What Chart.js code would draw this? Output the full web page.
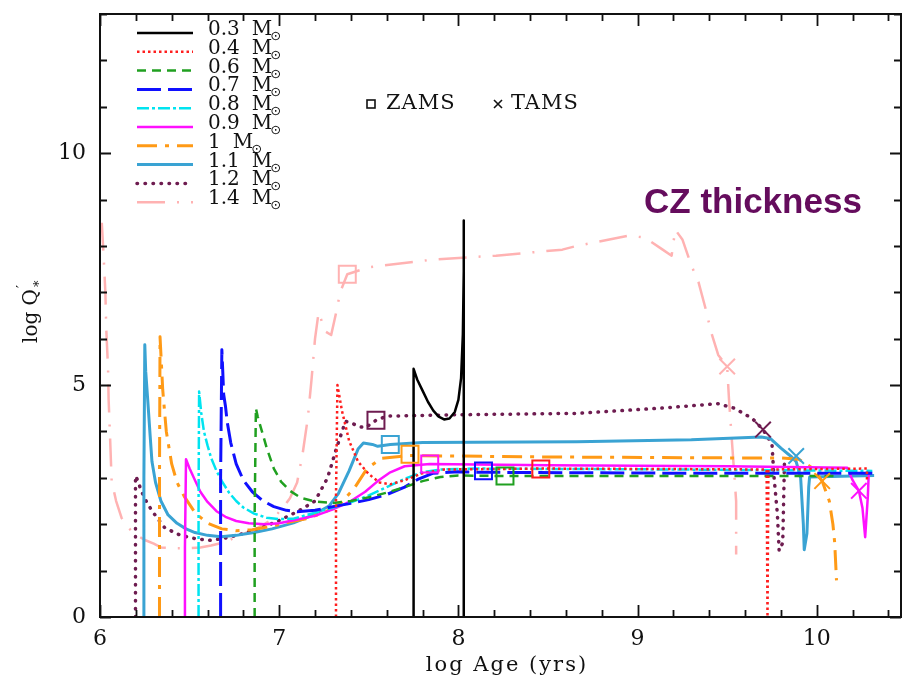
<!DOCTYPE html>
<html>
<head>
<meta charset="utf-8">
<title>CZ thickness</title>
<script src="https://cdn.jsdelivr.net/npm/chart.js@4.4.0/dist/chart.umd.min.js"></script>
<style>
html,body{margin:0;padding:0;background:#fff;overflow:hidden;}
#wrap{position:relative;width:903px;height:683px;overflow:hidden;}
canvas{display:block;}
</style>
</head>
<body>
<div id="wrap"><canvas id="cz" width="915" height="683"></canvas></div>
<script>
// log Q'* against log age, one track per stellar mass: [log age, log Q]
const masses = ['0.3', '0.4', '0.6', '0.7', '0.8', '0.9', '1', '1.1', '1.2', '1.4'];

const track03 = [[7.75,0],[7.75,5.35],[7.77,5.12],[7.80,4.88],[7.83,4.64],[7.86,4.45],[7.89,4.32],[7.92,4.26],[7.95,4.28],[7.98,4.42],[8.0,4.68],[8.015,5.15],[8.025,6.1],[8.03,7.45],[8.03,8.55],[8.03,0]];
const track04 = [[7.317,0],[7.317,2.6],[7.325,5.0],[7.35,4.45],[7.39,3.8],[7.44,3.35],[7.5,3.08],[7.56,2.9],[7.62,2.86],[7.7,2.95],[7.8,3.1],[7.92,3.18],[8.46,3.2],[9.2,3.19],[9.72,3.18],[9.725,0],[9.73,3.18],[10.28,3.2],[10.28,2.95]];
const track06 = [[6.863,0],[6.863,2.2],[6.87,4.5],[6.88,4.32],[6.9,4.05],[6.93,3.65],[6.97,3.2],[7.01,2.92],[7.06,2.72],[7.12,2.57],[7.2,2.49],[7.3,2.46],[7.4,2.5],[7.5,2.58],[7.6,2.68],[7.7,2.8],[7.8,2.93],[7.9,3.02],[8.0,3.05],[8.26,3.04],[9.2,3.04],[10.1,3.04]];
const track07 = [[6.673,0],[6.673,3.0],[6.68,5.76],[6.685,5.3],[6.69,4.8],[6.70,4.55],[6.71,4.2],[6.73,3.75],[6.76,3.3],[6.8,2.95],[6.85,2.7],[6.91,2.5],[6.97,2.38],[7.04,2.3],[7.1,2.27],[7.2,2.3],[7.3,2.38],[7.4,2.45],[7.5,2.53],[7.6,2.64],[7.7,2.8],[7.78,2.98],[7.86,3.1],[8.0,3.13],[8.14,3.12],[9.2,3.1],[10.32,3.1]];
const track08 = [[6.55,0],[6.55,2.5],[6.553,4.86],[6.565,4.4],[6.58,4.0],[6.6,3.7],[6.62,3.43],[6.65,3.15],[6.68,2.93],[6.72,2.68],[6.76,2.5],[6.8,2.36],[6.86,2.23],[6.93,2.14],[7.0,2.11],[7.08,2.12],[7.2,2.25],[7.3,2.36],[7.4,2.47],[7.5,2.62],[7.6,2.8],[7.7,2.98],[7.8,3.12],[7.9,3.18],[8.1,3.2],[9.2,3.18],[10.31,3.15]];
const track09 = [[6.474,0],[6.474,1.5],[6.48,3.4],[6.5,3.2],[6.53,2.95],[6.56,2.7],[6.6,2.48],[6.65,2.28],[6.7,2.16],[6.76,2.07],[6.83,2.02],[6.92,2.0],[7.0,2.02],[7.1,2.1],[7.2,2.18],[7.3,2.32],[7.4,2.5],[7.48,2.7],[7.55,2.93],[7.62,3.12],[7.7,3.25],[7.84,3.3],[8.5,3.27],[9.5,3.25],[10.17,3.22],[10.2,2.95],[10.235,2.72],[10.255,2.35],[10.27,1.72],[10.285,2.6],[10.29,3.1]];
const track10 = [[6.332,0],[6.332,3.0],[6.335,6.04],[6.35,4.9],[6.37,4.0],[6.4,3.3],[6.43,2.9],[6.47,2.6],[6.53,2.25],[6.6,2.02],[6.68,1.9],[6.76,1.86],[6.85,1.88],[6.95,1.95],[7.05,2.04],[7.15,2.12],[7.25,2.25],[7.34,2.44],[7.42,2.78],[7.49,3.2],[7.57,3.42],[7.73,3.48],[8.5,3.45],[9.5,3.43],[9.8,3.43],[9.9,3.4],[9.98,3.2],[10.03,2.93],[10.07,2.5],[10.09,2.0],[10.1,1.6],[10.11,0.79]];
const track11 = [[6.245,0],[6.245,3.0],[6.25,5.87],[6.255,5.3],[6.266,4.7],[6.28,3.9],[6.29,3.35],[6.31,2.9],[6.34,2.5],[6.38,2.2],[6.43,2.02],[6.48,1.9],[6.53,1.82],[6.6,1.76],[6.675,1.73],[6.76,1.76],[6.86,1.82],[6.96,1.9],[7.08,2.03],[7.2,2.22],[7.28,2.4],[7.33,2.66],[7.39,3.15],[7.44,3.62],[7.47,3.75],[7.52,3.72],[7.55,3.68],[7.62,3.72],[7.8,3.76],[8.66,3.78],[9.3,3.82],[9.69,3.88],[9.74,3.85],[9.8,3.64],[9.86,3.45],[9.885,3.35],[9.91,3.0],[9.925,2.0],[9.93,1.45],[9.945,1.8],[9.955,2.8],[9.96,3.02],[10.32,3.05]];
const track12 = [[6.198,0],[6.198,3.04],[6.21,2.95],[6.23,2.72],[6.26,2.48],[6.29,2.29],[6.33,2.08],[6.36,1.93],[6.41,1.83],[6.45,1.76],[6.53,1.69],[6.62,1.65],[6.71,1.71],[6.8,1.8],[6.9,1.92],[7.0,2.08],[7.11,2.29],[7.2,2.5],[7.27,3.0],[7.32,3.64],[7.37,4.22],[7.41,4.17],[7.44,4.11],[7.48,4.08],[7.54,4.24],[7.6,4.33],[8.0,4.36],[8.66,4.39],[9.12,4.5],[9.45,4.6],[9.54,4.5],[9.64,4.28],[9.7,4.04],[9.75,3.73],[9.76,3.08],[9.78,2.23],[9.79,1.43],[9.81,1.6],[9.82,3.4]];
const track14 = [[6.01,8.5],[6.02,7.8],[6.03,7.0],[6.035,6.2],[6.045,5.35],[6.048,4.7],[6.055,4.0],[6.065,2.93],[6.09,2.5],[6.12,2.14],[6.16,1.92],[6.19,1.8],[6.25,1.66],[6.3,1.58],[6.34,1.5],[6.42,1.48],[6.49,1.48],[6.56,1.5],[6.62,1.54],[6.7,1.62],[6.78,1.76],[6.88,1.92],[6.96,2.1],[7.02,2.35],[7.06,2.56],[7.1,2.9],[7.13,3.5],[7.16,4.3],[7.18,5.1],[7.2,6.0],[7.22,6.57],[7.24,6.35],[7.26,6.15],[7.29,6.08],[7.32,6.6],[7.34,7.0],[7.38,7.39],[7.5,7.54],[7.87,7.71],[8.21,7.79],[8.58,7.92],[8.66,8.0],[8.95,8.22],[9.04,8.18],[9.14,7.92],[9.19,7.79],[9.21,8.35],[9.25,8.14],[9.3,7.58],[9.34,7.22],[9.38,6.64],[9.41,6.15],[9.45,5.65],[9.5,5.4],[9.51,4.7],[9.53,3.6],[9.55,2.5],[9.55,1.35]];

const tracks = [track03, track04, track06, track07, track08, track09, track10, track11, track12, track14];

// zero-age and terminal-age main sequence points
const zamsMass = ['1.4', '1.2', '1.1', '1', '0.9', '0.7', '0.6', '0.4'];
const zamsAge  = [7.38, 7.54, 7.62, 7.73, 7.84, 8.14, 8.26, 8.46];
const zamsQ    = [7.39, 4.24, 3.72, 3.51, 3.30, 3.15, 3.04, 3.19];
const tamsMass = ['1.4', '1.2', '1.1', '1', '0.9'];
const tamsAge  = [9.50, 9.70, 9.885, 10.03, 10.235];
const tamsQ    = [5.40, 4.04, 3.47, 2.93, 2.72];

const xTickLabels = [6, 7, 8, 9, 10];
const yTickLabels = [0, 5, 10];

const styles = {
  '0.3': {color: '#000000', width: 2.5, dash: []},
  '0.4': {color: '#ff1e1e', width: 2.5, dash: [2.5, 3]},
  '0.6': {color: '#20a020', width: 2.5, dash: [9, 6]},
  '0.7': {color: '#1010ff', width: 3, dash: [24, 7]},
  '0.8': {color: '#00e4f0', width: 2.5, dash: [12, 3, 3, 3]},
  '0.9': {color: '#ff10ff', width: 2.5, dash: []},
  '1':   {color: '#ff9a16', width: 3, dash: [20, 8, 4, 8]},
  '1.1': {color: '#3aa3d3', width: 3, dash: []},
  '1.2': {color: '#6e1c50', width: 3.5, dash: [0.5, 7.5], cap: 'round'},
  '1.4': {color: '#ffb2b2', width: 2.5, dash: [28, 12, 2, 12]}
};

const serif = '"DejaVu Serif", "Liberation Serif", serif';
const xy = p => ({x: p[0], y: p[1]});

const datasets = masses.map((m, i) => ({
  label: m + ' M\u2299',
  data: tracks[i].map(xy),
  borderColor: styles[m].color,
  borderWidth: styles[m].width,
  borderDash: styles[m].dash,
  borderCapStyle: styles[m].cap || 'butt',
  borderJoinStyle: 'round',
  pointRadius: 0,
  tension: 0,
  fill: false
}));

datasets.unshift({
  type: 'scatter', label: 'ZAMS',
  data: zamsAge.map((a, i) => ({x: a, y: zamsQ[i]})),
  pointStyle: 'rect', pointRadius: 12, pointBorderWidth: 2,
  pointBackgroundColor: 'rgba(0,0,0,0)',
  pointBorderColor: zamsMass.map(m => styles[m].color),
  showLine: false
}, {
  type: 'scatter', label: 'TAMS',
  data: tamsAge.map((a, i) => ({x: a, y: tamsQ[i]})),
  pointStyle: 'crossRot', pointRadius: 11, pointBorderWidth: 2,
  pointBorderColor: tamsMass.map(m => styles[m].color),
  showLine: false
});

// frame, inward ticks, legend and annotations
const decor = {
  id: 'decor',
  afterDraw(chart) {
    const {ctx, chartArea: a, scales: {x, y}} = chart;
    ctx.save();
    ctx.strokeStyle = '#111';
    ctx.lineWidth = 2;
    ctx.setLineDash([]);
    ctx.strokeRect(a.left, a.top, a.right - a.left, a.bottom - a.top);

    ctx.lineWidth = 1.8;
    ctx.beginPath();
    for (let v = 6; v <= x.max + 1e-6; v += 0.2) {
      const px = Math.round(x.getPixelForValue(v)) + 0.5;
      const len = Math.abs(v - Math.round(v)) < 1e-6 ? 12 : 7;
      ctx.moveTo(px, a.bottom); ctx.lineTo(px, a.bottom - len);
      ctx.moveTo(px, a.top); ctx.lineTo(px, a.top + len);
    }
    for (let v = 0; v <= y.max; v += 1) {
      const py = Math.round(y.getPixelForValue(v)) + 0.5;
      const len = v % 5 === 0 ? 11 : 7;
      ctx.moveTo(a.left, py); ctx.lineTo(a.left + len, py);
      ctx.moveTo(a.right, py); ctx.lineTo(a.right - len, py);
    }
    ctx.stroke();

    // legend block
    const rowH = 18.8;
    masses.forEach((m, i) => {
      const ly = 33 + i * rowH;
      const s = styles[m];
      ctx.strokeStyle = s.color;
      ctx.lineWidth = s.width;
      ctx.lineCap = s.cap || 'butt';
      ctx.setLineDash(s.dash);
      ctx.beginPath();
      ctx.moveTo(137, ly); ctx.lineTo(193, ly);
      ctx.stroke();
      ctx.setLineDash([]);
      ctx.fillStyle = '#111';
      ctx.font = '20px ' + serif;
      ctx.textBaseline = 'alphabetic';
      ctx.textAlign = 'left';
      ctx.fillText(m, 208, ly + 2);
      const mx = 208 + ctx.measureText(m).width + 12;
      ctx.fillText('M', mx, ly + 2);
      const sx = mx + ctx.measureText('M').width;
      ctx.font = '13px "DejaVu Sans", sans-serif';
      ctx.fillText('\u2299', sx - 2, ly + 7);
    });

    // ZAMS / TAMS key
    ctx.strokeStyle = '#111';
    ctx.lineWidth = 1.6;
    ctx.lineCap = 'butt';
    ctx.strokeRect(367, 100, 8, 8);
    ctx.beginPath();
    ctx.moveTo(494, 100); ctx.lineTo(502, 108);
    ctx.moveTo(502, 100); ctx.lineTo(494, 108);
    ctx.stroke();
    ctx.fillStyle = '#111';
    ctx.font = '21px ' + serif;
    ctx.letterSpacing = '1px';
    ctx.fillText('ZAMS', 386, 109);
    ctx.fillText('TAMS', 511, 109);

    // axis titles
    ctx.letterSpacing = '2px';
    ctx.textAlign = 'center';
    ctx.fillText('log Age (yrs)', 507, 671);
    ctx.letterSpacing = '0px';

    ctx.save();
    ctx.translate(37, 312);
    ctx.rotate(-Math.PI / 2);
    ctx.font = '20px ' + serif;
    ctx.textAlign = 'left';
    const t = 'log Q';
    const tw = ctx.measureText(t).width;
    ctx.fillText(t, -tw / 2 - 4, 0);
    ctx.font = '13px ' + serif;
    ctx.fillText('\u2032', tw / 2 - 3, -11);
    ctx.fillText('*', tw / 2 - 2, 6);
    ctx.restore();

    ctx.fillStyle = '#650c5d';
    ctx.font = 'bold 35px "Liberation Sans", Arial, sans-serif';
    ctx.textAlign = 'left';
    ctx.fillText('CZ thickness', 644, 213);
    ctx.restore();
  }
};

new Chart(document.getElementById('cz'), {
  type: 'line',
  data: {datasets},
  options: {
    responsive: false,
    animation: false,
    devicePixelRatio: 1,
    layout: {padding: {top: 10, right: 7, left: 0, bottom: 0}},
    plugins: {legend: {display: false}, tooltip: {enabled: false}},
    scales: {
      x: {
        type: 'linear', min: 6, max: 10.47,
        grid: {display: false, drawTicks: false},
        border: {display: false},
        afterBuildTicks: s => { s.ticks = xTickLabels.map(v => ({value: v})); },
        afterFit: s => { s.height = 66; s.paddingLeft = 0; s.paddingRight = 0; },
        ticks: {padding: 9, color: '#111', font: {family: serif, size: 22}, maxRotation: 0, autoSkip: false,
          callback: v => String(v)}
      },
      y: {
        type: 'linear', min: 0, max: 13,
        grid: {display: false, drawTicks: false},
        border: {display: false},
        afterBuildTicks: s => { s.ticks = yTickLabels.map(v => ({value: v})); },
        afterFit: s => { s.width = 100; s.paddingTop = 0; s.paddingBottom = 0; },
        ticks: {padding: 14, color: '#111', font: {family: serif, size: 22}, autoSkip: false,
          callback: v => String(v)}
      }
    }
  },
  plugins: [decor]
});
</script>
</body>
</html>
